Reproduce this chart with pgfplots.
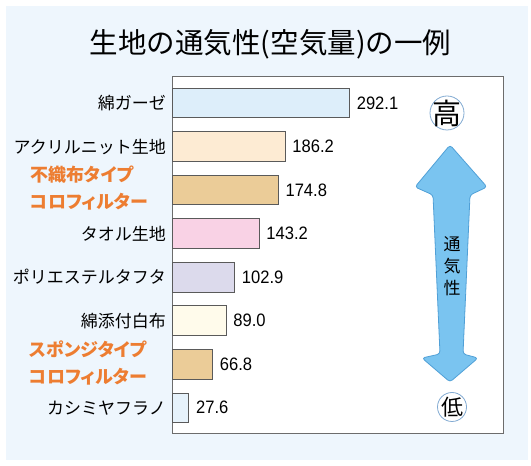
\documentclass[border=0pt]{standalone}
\usepackage{pgfplots}
\pgfplotsset{compat=1.18}
\usepackage{fontspec}
\setmainfont{Noto Sans CJK JP}
\newfontfamily\numfont[FakeStretch=0.92]{Liberation Sans}
\newfontfamily\palfont[RawFeature=+palt]{Noto Sans CJK JP}
\definecolor{bgblue}{RGB}{238,246,253}
\definecolor{cA}{RGB}{221,238,250}
\definecolor{cB}{RGB}{253,235,211}
\definecolor{cC}{RGB}{235,204,152}
\definecolor{cD}{RGB}{249,210,229}
\definecolor{cE}{RGB}{220,218,236}
\definecolor{cF}{RGB}{255,251,235}
\definecolor{cG}{RGB}{235,204,152}
\definecolor{cH}{RGB}{230,242,251}
\definecolor{orangeL}{RGB}{237,125,49}
\definecolor{arrowfill}{RGB}{122,196,240}
\definecolor{arrowdraw}{RGB}{80,160,215}
\definecolor{circdraw}{RGB}{130,170,210}
\definecolor{bardraw}{RGB}{90,90,90}
\begin{document}
\begin{tikzpicture}[x=1bp,y=1bp]
\useasboundingbox (0,0) rectangle (531,466);
\fill[white] (0,0) rectangle (531,466);
\fill[bgblue] (6,6) rectangle (528,460);
\node[font=\fontsize{28.5bp}{30bp}\selectfont] at (270.5,422) {生地の通気性(空気量)の一例};
\begin{axis}[
  at={(172bp,33bp)}, anchor=south west,
  width=331bp, height=357bp, scale only axis,
  xbar, bar shift=0pt, bar width=0.68,
  xmin=0, xmax=545, ymin=-0.62, ymax=7.58, y dir=reverse,
  xtick=\empty,
  ytick={0,1,2,3,4,5,6,7},
  yticklabels={
    綿ガーゼ,
    アクリルニット生地,
    {\color{orangeL}\bfseries\palfont\fontsize{18bp}{27bp}\selectfont\begin{tabular}{@{}l@{}}不織布タイプ\\コロフィルター\end{tabular}\hspace*{18bp}},
    タオル生地,
    ポリエステルタフタ,
    綿添付白布,
    {\color{orangeL}\bfseries\palfont\fontsize{18bp}{27bp}\selectfont\begin{tabular}{@{}l@{}}スポンジタイプ\\コロフィルター\end{tabular}\hspace*{19bp}},
    カシミヤフラノ},
  yticklabel style={anchor=east, inner sep=0pt, xshift=-6bp, font=\fontsize{17bp}{18bp}\selectfont},
  major tick length=0pt,
  axis line style={draw=gray!85!black, line width=0.8bp},
  axis background/.style={fill=white},
  point meta=x,
  nodes near coords={\pgfmathprintnumber[fixed,fixed zerofill,precision=1,assume math mode=true]{\pgfplotspointmeta}},
  every node near coord/.append style={font=\numfont\fontsize{18bp}{20bp}\selectfont, anchor=west, inner sep=0pt, xshift=7bp, text=black},
  every axis plot/.append style={draw=bardraw, line width=0.8bp},
  clip=false,
]
\addplot[fill=cA] coordinates {(292.1,0)};
\addplot[fill=cB] coordinates {(186.2,1)};
\addplot[fill=cC] coordinates {(174.8,2)};
\addplot[fill=cD] coordinates {(143.2,3)};
\addplot[fill=cE] coordinates {(102.9,4)};
\addplot[fill=cF] coordinates {(89.0,5)};
\addplot[fill=cG] coordinates {(66.8,6)};
\addplot[fill=cH] coordinates {(27.6,7)};
\end{axis}
% double arrow
\draw[fill=arrowfill, draw=arrowdraw, line width=0.8bp, rounded corners=3bp]
  (450,321) -- (415,279) -- (433,271) -- (440,112) -- (422,108) -- (450,84)
  -- (478,108) -- (463,112) -- (470,271) -- (487,279) -- cycle;
\node[font=\fontsize{17bp}{18bp}\selectfont] at (452,222) {通};
\node[font=\fontsize{17bp}{18bp}\selectfont] at (452,200) {気};
\node[font=\fontsize{17bp}{18bp}\selectfont] at (452,178) {性};
\draw[fill=white, draw=circdraw, line width=0.8bp] (447,353) circle (17);
\node[font=\fontsize{29bp}{30bp}\selectfont] at (447,353) {高};
\draw[fill=white, draw=circdraw, line width=0.8bp] (452,59) circle (14.5);
\node[font=\fontsize{22bp}{24bp}\selectfont] at (452,59) {低};
\end{tikzpicture}
\end{document}
